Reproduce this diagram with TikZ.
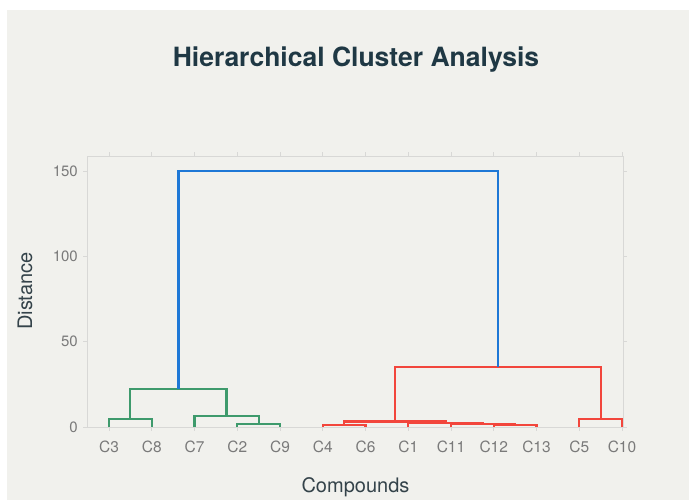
\documentclass[tikz,border=0pt]{standalone}
\usepackage{fontspec}
\setmainfont{TeX Gyre Heros}
\definecolor{bgpanel}{HTML}{F1F1ED}
\definecolor{framegray}{HTML}{D8D8D6}
\definecolor{tickgray}{HTML}{7A7A7A}
\definecolor{titlecol}{HTML}{1F3844}
\definecolor{axtitle}{HTML}{34434A}
\definecolor{dgreen}{HTML}{3E9A6C}
\definecolor{dred}{HTML}{F2463C}
\definecolor{dblue}{HTML}{1E78D6}
\tikzset{
  frameline/.style={draw=framegray, line width=0.8bp},
  tickline/.style={draw=framegray, line width=0.8bp},
  link/.style={line width=2.2bp, line join=miter},
  greenlink/.style={link, draw=dgreen},
  redlink/.style={link, draw=dred},
  bluelink/.style={link, draw=dblue},
  ylab/.style={text=tickgray, font=\fontsize{15bp}{18bp}\selectfont, anchor=east, inner sep=0pt},
  xlab/.style={text=tickgray, font=\fontsize{15.5bp}{18bp}\selectfont, anchor=center, inner sep=0pt},
  axislabel/.style={text=axtitle, font=\fontsize{20bp}{24bp}\selectfont, inner sep=0pt},
  titlelabel/.style={text=titlecol, font=\fontsize{26.5bp}{30bp}\selectfont\bfseries, inner sep=0pt}
}
\begin{document}
\begin{tikzpicture}[x=1bp,y=-1bp]
\useasboundingbox (0,0) rectangle (689,500);
\fill[white] (0,0) rectangle (689,500);
\fill[bgpanel] (7,10) rectangle (689,500);

% title
\node[titlelabel] (title) at (356,60) {Hierarchical Cluster Analysis};

% frame
\draw[frameline] (87,156) rectangle (623,427);

% y ticks and labels
\foreach \v/\yy in {0/427,50/341.67,100/256.33,150/171}{
  \draw[tickline] (83,\yy) -- (87,\yy);
  \draw[tickline] (623,\yy) -- (627,\yy);
  \node[ylab] (yl\v) at (78,\yy) {\v};
}

% x ticks and labels
\foreach \lab [count=\i from 0] in {C3,C8,C7,C2,C9,C4,C6,C1,C11,C12,C13,C5,C10}{
  \pgfmathsetmacro{\xx}{109+42.75*\i}
  \draw[tickline] (\xx,427) -- (\xx,431);
  \draw[tickline] (\xx,156) -- (\xx,152);
  \node[xlab] (xl\i) at (\xx,447) {\lab};
}

% axis titles
\node[axislabel, rotate=90] (ytitle) at (25,291) {Distance};
\node[axislabel] (xtitle) at (355.5,487) {Compounds};

% green cluster
\draw[greenlink] (109,427) -- (109,419.3) -- (151.75,419.3) -- (151.75,427);
\draw[greenlink] (237.25,427) -- (237.25,423.9) -- (280,423.9) -- (280,427);
\draw[greenlink] (194.5,427) -- (194.5,415.7) -- (258.625,415.7) -- (258.625,423.9);
\draw[greenlink] (130.375,419.3) -- (130.375,389.3) -- (226.56,389.3) -- (226.56,415.7);

% red cluster
\draw[redlink] (322.75,427) -- (322.75,425.0) -- (365.5,425.0) -- (365.5,427);
\draw[redlink] (493.75,427) -- (493.75,425.3) -- (536.5,425.3) -- (536.5,427);
\draw[redlink] (451,427) -- (451,423.9) -- (515.125,423.9) -- (515.125,425.3);
\draw[redlink] (408.25,427) -- (408.25,422.6) -- (483.06,422.6) -- (483.06,423.9);
\draw[redlink] (344.125,425.0) -- (344.125,421.4) -- (445.66,421.4) -- (445.66,422.6);
\draw[redlink] (579.25,427) -- (579.25,419.3) -- (622,419.3) -- (622,427);
\draw[redlink] (394.89,421.4) -- (394.89,366.8) -- (600.625,366.8) -- (600.625,419.3);

% blue top link
\draw[bluelink] (178.47,389.3) -- (178.47,171) -- (497.76,171) -- (497.76,366.8);
\end{tikzpicture}
\end{document}
